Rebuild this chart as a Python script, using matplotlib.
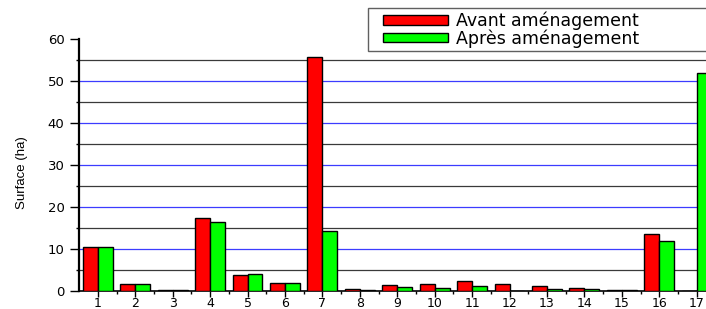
import numpy as np
import matplotlib
matplotlib.use("Agg")
import matplotlib.pyplot as plt
from matplotlib.ticker import MultipleLocator
from matplotlib.container import BarContainer
from matplotlib.legend_handler import HandlerPatch, update_from_first_child

# surfaces (ha) par zone
zones = list(range(1, 18))
avant = [10.5, 1.8, 0.3, 17.5, 3.8, 2.0, 55.6, 0.5, 1.4, 1.8, 2.5, 1.8, 1.3, 0.8, 0.2, 13.7, 0.0]
apres = [10.5, 1.8, 0.3, 16.4, 4.0, 2.0, 14.2, 0.3, 0.9, 0.8, 1.2, 0.1, 0.5, 0.5, 0.3, 11.9, 51.9]
labels = ["Avant aménagement", "Après aménagement"]

fig = plt.figure(figsize=(7.06, 3.09), dpi=100)
ax = fig.add_axes([0.112, 0.058, 0.888, 0.816])

x = np.array(zones)
w = 0.4
ax.bar(x - w / 2, avant, w, color="#ff0000", edgecolor="black", linewidth=1.0, label=labels[0], zorder=3)
ax.bar(x + w / 2, apres, w, color="#00ff00", edgecolor="black", linewidth=1.0, label=labels[1], zorder=3)

ax.set_xlim(0.5, 17.25)
ax.set_ylim(0, 60)
ax.yaxis.set_major_locator(MultipleLocator(10))
ax.yaxis.set_minor_locator(MultipleLocator(5))

# grid: blue on major, grey on minor, none along the top
for v in np.arange(10, 60, 10):
    ax.axhline(v, color="#3c3cff", linewidth=0.9, zorder=0)
for v in np.arange(5, 60, 10):
    ax.axhline(v, color="#3a3a3a", linewidth=0.9, zorder=0)

ax.set_xticks(zones)
ax.set_xticks(x[:-1] + 0.5, minor=True)
ax.tick_params(axis="x", which="major", length=4, width=1, pad=0.5, labelsize=9)
ax.tick_params(axis="x", which="minor", length=2, width=1)
ax.tick_params(axis="y", which="major", length=6.5, width=1, pad=4, labelsize=9.5)
ax.tick_params(axis="y", which="minor", length=2.2, width=1)

for s in ["top", "right"]:
    ax.spines[s].set_visible(False)
ax.spines["left"].set_linewidth(1.6)
ax.spines["bottom"].set_linewidth(1.2)

ax.set_ylabel("Surface (ha)", fontsize=9.5,
              family=["Liberation Sans Narrow", "DejaVu Sans Condensed", "Liberation Sans"])
ax.yaxis.set_label_coords(-0.081, 0.47)

hmap = {BarContainer: HandlerPatch(xpad=0.7, update_func=update_from_first_child)}
leg = fig.legend(loc="upper left", bbox_to_anchor=(0.521, 0.0, 0.482, 0.974), mode="expand",
                 borderaxespad=0, fontsize=12.5, handlelength=4.4, handleheight=0.5,
                 handletextpad=0.5, labelspacing=-0.05, borderpad=0.2, fancybox=False,
                 edgecolor="#606060", framealpha=1, handler_map=hmap)
leg.get_frame().set_linewidth(1.0)

fig.savefig("out.png", dpi=100)
